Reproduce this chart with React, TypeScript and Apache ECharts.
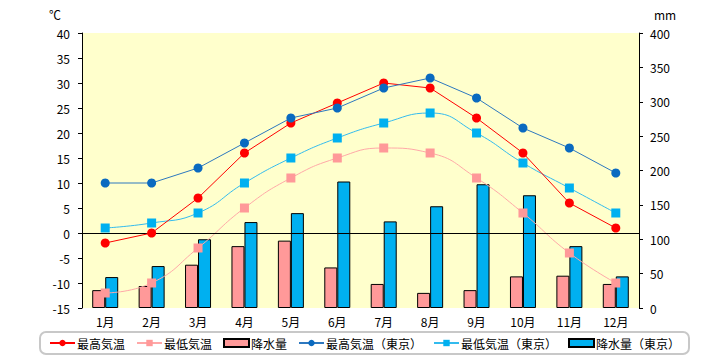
import React, { useEffect, useRef } from "react";
import * as echarts from "echarts";

const months = ["1月", "2月", "3月", "4月", "5月", "6月", "7月", "8月", "9月", "10月", "11月", "12月"];
const maxTemp = [-2, 0, 7, 16, 22, 26, 30, 29, 23, 16, 6, 1];
const minTemp = [-12, -10, -3, 5, 11, 15, 17, 16, 11, 4, -4, -10];
const precip = [26, 32, 63, 90, 98, 59, 35, 22, 26, 46, 47, 35];
const maxTempTokyo = [10, 10, 13, 18, 23, 25, 29, 31, 27, 21, 17, 12];
const minTempTokyo = [1, 2, 4, 10, 15, 19, 22, 24, 20, 14, 9, 4];
const precipTokyo = [45, 61, 100, 125, 138, 184, 126, 148, 180, 164, 90, 46];

const seriesNames = ["最高気温", "最低気温", "降水量", "最高気温（東京）", "最低気温（東京）", "降水量（東京）"];

const FONT = "'Noto Sans CJK JP', sans-serif";

export default function App() {
  const ref = useRef<HTMLDivElement>(null);
  useEffect(() => {
    const chart = echarts.init(ref.current!, null, { renderer: "svg" });
    chart.setOption({
      animation: false,
      textStyle: { fontFamily: FONT, color: "#000" },
      grid: {
        left: 82,
        right: 81,
        top: 33,
        bottom: 52,
        show: true,
        backgroundColor: "#FFFFCC",
        borderWidth: 0,
      },
      graphic: [
        { type: "text", left: 49, top: 8, style: { text: "℃", font: `12px ${FONT}`, fill: "#000" } },
        { type: "text", left: 654, top: 8, style: { text: "mm", font: `12px ${FONT}`, fill: "#000" } },
      ],
      legend: {
        top: 332,
        left: 40,
        width: 640,
        itemWidth: 25,
        itemHeight: 8,
        itemGap: 11,
        padding: [5, 9, 5, 9],
        borderColor: "#C8C8C8",
        borderWidth: 2,
        borderRadius: 6,
        backgroundColor: "#fff",
        textStyle: { fontSize: 12, fontFamily: FONT, color: "#000", padding: [0, 0, 0, -3] },
        data: [
          { name: seriesNames[0] },
          { name: seriesNames[1] },
          { name: seriesNames[2], icon: "rect" },
          { name: seriesNames[3] },
          { name: seriesNames[4] },
          { name: seriesNames[5], icon: "rect" },
        ],
      },
      xAxis: {
        type: "category",
        data: months,
        boundaryGap: true,
        axisLine: { show: false },
        axisTick: { show: false },
        axisLabel: { fontSize: 12, color: "#000", margin: 7, fontFamily: FONT },
      },
      yAxis: [
        {
          type: "value",
          min: -15,
          max: 40,
          interval: 5,
          position: "left",
          splitLine: { show: false },
          axisLine: { show: true, lineStyle: { color: "#000", width: 1 } },
          axisTick: { show: true, length: 4, lineStyle: { color: "#000" } },
          axisLabel: { fontSize: 12, color: "#000", margin: 12, fontFamily: FONT },
        },
        {
          type: "value",
          min: 0,
          max: 400,
          interval: 50,
          position: "right",
          splitLine: { show: false },
          axisLine: { show: true, lineStyle: { color: "#000", width: 1 } },
          axisTick: { show: true, length: 4, lineStyle: { color: "#000" } },
          axisLabel: { fontSize: 12, color: "#000", margin: 11, fontFamily: FONT },
        },
      ],
      series: [
        {
          name: seriesNames[0],
          type: "line",
          data: maxTemp,
          yAxisIndex: 0,
          symbol: "circle",
          symbolSize: 9,
          itemStyle: { color: "#FF0000" },
          lineStyle: { color: "#FF0000", width: 1 },
          z: 5,
          markLine: {
            silent: true,
            symbol: "none",
            label: { show: false },
            lineStyle: { color: "#000", width: 1, type: "solid" },
            data: [{ yAxis: 0 }],
          },
        },
        {
          name: seriesNames[1],
          type: "line",
          data: minTemp,
          yAxisIndex: 0,
          smooth: true,
          symbol: "rect",
          symbolSize: 9,
          itemStyle: { color: "#FF9999" },
          lineStyle: { color: "#FFA8A8", width: 1 },
          z: 4,
        },
        {
          name: seriesNames[2],
          type: "bar",
          data: precip,
          yAxisIndex: 1,
          barWidth: 13,
          barGap: "0%",
          itemStyle: { color: "#FF9999", borderColor: "#000", borderWidth: 1 },
          z: 2,
        },
        {
          name: seriesNames[3],
          type: "line",
          data: maxTempTokyo,
          yAxisIndex: 0,
          symbol: "circle",
          symbolSize: 9,
          itemStyle: { color: "#0A6AC0" },
          lineStyle: { color: "#2D78BF", width: 1 },
          z: 5,
        },
        {
          name: seriesNames[4],
          type: "line",
          data: minTempTokyo,
          yAxisIndex: 0,
          smooth: true,
          symbol: "rect",
          symbolSize: 9,
          itemStyle: { color: "#00B0F0" },
          lineStyle: { color: "#33BBEE", width: 1 },
          z: 4,
        },
        {
          name: seriesNames[5],
          type: "bar",
          data: precipTokyo,
          yAxisIndex: 1,
          barWidth: 13,
          barGap: "0%",
          itemStyle: { color: "#00B0F0", borderColor: "#000", borderWidth: 1 },
          z: 2,
        },
      ],
    });
    return () => chart.dispose();
  }, []);
  return <div ref={ref} style={{ position: "absolute", left: 0, top: 0, width: 720, height: 360 }} />;
}
